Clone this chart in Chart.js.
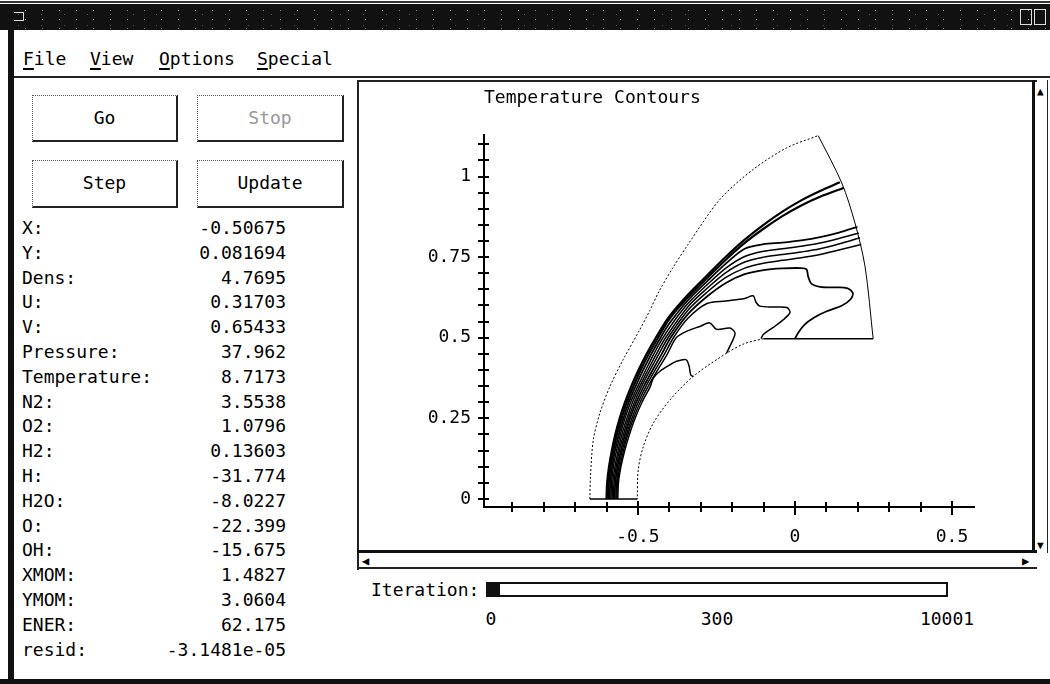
<!DOCTYPE html>
<html>
<head>
<meta charset="utf-8">
<title>Temperature Contours</title>
<script src="https://cdn.jsdelivr.net/npm/chart.js@4.4.0/dist/chart.umd.min.js"></script>
<style>
  html, body { margin: 0; padding: 0; }
  body {
    width: 1050px; height: 684px; position: relative; overflow: hidden;
    background: #fff; color: #000;
    font-family: 'DejaVu Sans Mono', 'Liberation Mono', monospace; font-size: 18px;
  }
  .abs { position: absolute; }
  .titlebar {
    background-color: #111;
    background-image: radial-gradient(#888 0.7px, transparent 1px), radial-gradient(#555 0.7px, transparent 1px);
    background-size: 17px 9px, 23px 11px;
    background-position: 0 2px, 7px 5px;
  }
  .btn {
    position: absolute; box-sizing: border-box;
    border: 1px dotted #555; border-right: 2px solid #222; border-bottom: 2px solid #222;
    text-align: center; line-height: 44px; font-size: 18px;
  }
  .lbl, .val { position: absolute; height: 22px; line-height: 22px; white-space: pre; }
  .val { text-align: right; width: 200px; left: 86px; }
  .menu { position: absolute; top: 48px; font-size: 18px; line-height: 22px; }
  .menu u { text-decoration-thickness: 2px; text-underline-offset: 3px; }
</style>
</head>
<body>

<!-- window frame -->
<div class="abs" style="left:0;top:1px;width:1050px;height:2px;background:#333;"></div>
<div class="abs titlebar" style="left:0;top:4px;width:1050px;height:26px;"></div>
<div class="abs" style="left:13px;top:12px;width:9px;height:7px;border:1px solid #ddd;"></div>
<div class="abs" style="left:1020px;top:9px;width:10px;height:14px;border:1px solid #ddd;"></div>
<div class="abs" style="left:1034px;top:9px;width:10px;height:14px;border:1px solid #ddd;"></div>
<div class="abs" style="left:8px;top:4px;width:6px;height:680px;background:#111;"></div>
<div class="abs" style="left:0;top:679px;width:1050px;height:5px;background:#111;"></div>

<!-- menu bar -->
<div class="menu" style="left:23px;"><u>F</u>ile</div>
<div class="menu" style="left:90px;"><u>V</u>iew</div>
<div class="menu" style="left:159px;"><u>O</u>ptions</div>
<div class="menu" style="left:257px;"><u>S</u>pecial</div>
<div class="abs" style="left:14px;top:76px;width:1036px;height:2px;background:#222;"></div>

<!-- control buttons -->
<div class="btn" style="left:32px;top:95px;width:146px;height:47px;">Go</div>
<div class="btn" style="left:197px;top:95px;width:147px;height:47px;color:#999;">Stop</div>
<div class="btn" style="left:32px;top:160px;width:146px;height:48px;">Step</div>
<div class="btn" style="left:197px;top:160px;width:147px;height:48px;">Update</div>
<div id="vars"></div>

<!-- plot panel frame -->
<div class="abs" style="left:357px;top:80px;width:2px;height:490px;background:#222;"></div>
<div class="abs" style="left:357px;top:80px;width:680px;height:2px;background:#222;"></div>
<div class="abs" style="left:1032px;top:80px;width:3px;height:473px;background:#111;"></div>
<div class="abs" style="left:357px;top:550px;width:680px;height:3px;background:#111;"></div>
<div class="abs" style="left:357px;top:567px;width:680px;height:2px;background:#222;"></div>
<div class="abs" style="left:362px;top:555px;font-size:12px;line-height:12px;">&#9664;</div>
<div class="abs" style="left:1022px;top:555px;font-size:12px;line-height:12px;">&#9654;</div>
<div class="abs" style="left:1047px;top:80px;width:1px;height:473px;background:#222;"></div>
<div class="abs" style="left:1037px;top:86px;font-size:11px;line-height:11px;">&#9650;</div>
<div class="abs" style="left:1037px;top:540px;font-size:11px;line-height:11px;">&#9660;</div>

<div class="abs" style="left:360px;top:82px;width:672px;height:468px;">
  <canvas id="plot" width="672" height="468"></canvas>
</div>

<!-- iteration bar -->
<div class="abs" style="left:371px;top:579px;line-height:22px;">Iteration:</div>
<div class="abs" style="left:486px;top:582px;width:458px;height:11px;border:2px solid #111;"></div>
<div class="abs" style="left:488px;top:584px;width:12px;height:11px;background:#111;"></div>
<div class="abs" style="left:480px;top:608px;width:22px;text-align:center;line-height:22px;">0</div>
<div class="abs" style="left:697px;top:608px;width:40px;text-align:center;line-height:22px;">300</div>
<div class="abs" style="left:917px;top:608px;width:60px;text-align:center;line-height:22px;">10001</div>

<script>
// --- Readout panel values ---
const varNames = ['X:', 'Y:', 'Dens:', 'U:', 'V:', 'Pressure:', 'Temperature:', 'N2:', 'O2:',
    'H2:', 'H:', 'H2O:', 'O:', 'OH:', 'XMOM:', 'YMOM:', 'ENER:', 'resid:'];
const varValues = ['-0.50675', '0.081694', '4.7695', '0.31703', '0.65433', '37.962', '8.7173',
    '3.5538', '1.0796', '0.13603', '-31.774', '-8.0227', '-22.399', '-15.675', '1.4827',
    '3.0604', '62.175', '-3.1481e-05'];

// --- Axis ticks ---
const xTickValues = [-0.9, -0.8, -0.7, -0.6, -0.5, -0.4, -0.3, -0.2, -0.1, 0, 0.1, 0.2, 0.3, 0.4, 0.5];
const xLabeled = [-0.5, 0, 0.5];
const yTickValues = [0, 0.05, 0.1, 0.15, 0.2, 0.25, 0.3, 0.35, 0.4, 0.45, 0.5, 0.55, 0.6, 0.65,
    0.7, 0.75, 0.8, 0.85, 0.9, 0.95, 1, 1.05, 1.1];
const yLabeled = [0, 0.25, 0.5, 0.75, 1];

// --- Domain boundary ---
const outerBoundary = [[-0.653, 0], [-0.651, 0.07], [-0.642, 0.183], [-0.621, 0.266], [-0.589, 0.349],
    [-0.547, 0.432], [-0.494, 0.525], [-0.462, 0.585], [-0.432, 0.645], [-0.390, 0.715],
    [-0.340, 0.790], [-0.239, 0.929], [-0.133, 1.022], [-0.026, 1.089], [0.074, 1.127]];
const rightBoundary = [[0.074, 1.127], [0.149, 0.980], [0.191, 0.856], [0.223, 0.721], [0.249, 0.497]];
const exitEdge = [[0.249, 0.497], [-0.100, 0.497]];
const bodyBoundary = [[-0.100, 0.497], [-0.160, 0.482], [-0.218, 0.452], [-0.324, 0.380], [-0.398, 0.307],
    [-0.451, 0.235], [-0.483, 0.162], [-0.499, 0.090], [-0.502, 0]];
const axisEdge = [[-0.502, 0], [-0.653, 0]];

// --- Temperature contours ---
const contourA = [[-0.600, 0], [-0.598, 0.05], [-0.592, 0.10], [-0.583, 0.15], [-0.572, 0.20],
    [-0.558, 0.25], [-0.541, 0.30], [-0.521, 0.35], [-0.498, 0.40], [-0.472, 0.45], [-0.443, 0.50],
    [-0.400, 0.566], [-0.340, 0.634], [-0.280, 0.693], [-0.220, 0.751], [-0.160, 0.804],
    [-0.100, 0.850], [-0.040, 0.891], [0.020, 0.926], [0.080, 0.955], [0.143, 0.982]];
const contourB = [[-0.595, 0], [-0.593, 0.05], [-0.587, 0.10], [-0.578, 0.15], [-0.567, 0.20],
    [-0.552, 0.25], [-0.535, 0.30], [-0.514, 0.35], [-0.491, 0.40], [-0.465, 0.45], [-0.436, 0.50],
    [-0.400, 0.558], [-0.340, 0.626], [-0.280, 0.685], [-0.220, 0.742], [-0.160, 0.794],
    [-0.100, 0.838], [-0.040, 0.877], [0.020, 0.910], [0.080, 0.937], [0.156, 0.965]];
const contourC = [[-0.590, 0], [-0.588, 0.05], [-0.582, 0.10], [-0.573, 0.15], [-0.561, 0.20],
    [-0.546, 0.25], [-0.529, 0.30], [-0.507, 0.35], [-0.483, 0.40], [-0.457, 0.45], [-0.428, 0.50],
    [-0.400, 0.544], [-0.340, 0.617], [-0.280, 0.675], [-0.220, 0.730], [-0.160, 0.776],
    [-0.100, 0.790], [-0.040, 0.795], [0.020, 0.802], [0.080, 0.812], [0.140, 0.826], [0.199, 0.844]];
const contourD = [[-0.586, 0], [-0.584, 0.05], [-0.578, 0.10], [-0.568, 0.15], [-0.556, 0.20],
    [-0.541, 0.25], [-0.523, 0.30], [-0.500, 0.35], [-0.475, 0.40], [-0.449, 0.45], [-0.420, 0.50],
    [-0.380, 0.558], [-0.340, 0.607], [-0.280, 0.664], [-0.220, 0.716], [-0.160, 0.752],
    [-0.100, 0.768], [-0.040, 0.776], [0.020, 0.784], [0.080, 0.794], [0.140, 0.808], [0.203, 0.825]];
const contourE = [[-0.582, 0], [-0.580, 0.05], [-0.573, 0.10], [-0.563, 0.15], [-0.551, 0.20],
    [-0.535, 0.25], [-0.517, 0.30], [-0.494, 0.35], [-0.468, 0.40], [-0.441, 0.45], [-0.412, 0.50],
    [-0.340, 0.597], [-0.280, 0.653], [-0.220, 0.702], [-0.160, 0.735], [-0.100, 0.750],
    [-0.040, 0.758], [0.020, 0.766], [0.080, 0.776], [0.140, 0.791], [0.207, 0.810]];
const contourF = [[-0.578, 0], [-0.576, 0.05], [-0.569, 0.10], [-0.559, 0.15], [-0.546, 0.20],
    [-0.530, 0.25], [-0.511, 0.30], [-0.488, 0.35], [-0.461, 0.40], [-0.433, 0.45], [-0.404, 0.50],
    [-0.340, 0.586], [-0.280, 0.641], [-0.220, 0.687], [-0.160, 0.716], [-0.100, 0.731],
    [-0.040, 0.740], [0.020, 0.748], [0.080, 0.758], [0.140, 0.772], [0.211, 0.789]];
const contourG = [[-0.574, 0], [-0.572, 0.05], [-0.565, 0.10], [-0.554, 0.15], [-0.541, 0.20],
    [-0.525, 0.25], [-0.505, 0.30], [-0.481, 0.35], [-0.453, 0.40], [-0.424, 0.45], [-0.396, 0.50],
    [-0.340, 0.574], [-0.280, 0.628], [-0.220, 0.670], [-0.160, 0.697], [-0.100, 0.710],
    [-0.040, 0.715], [0.020, 0.716], [0.037, 0.712], [0.042, 0.690], [0.052, 0.668], [0.080, 0.658],
    [0.130, 0.656], [0.165, 0.654], [0.184, 0.639], [0.178, 0.620], [0.150, 0.600], [0.101, 0.582],
    [0.060, 0.562], [0.030, 0.540], [0.010, 0.515], [0.000, 0.497]];
const contourH = [[-0.570, 0], [-0.568, 0.05], [-0.561, 0.10], [-0.550, 0.15], [-0.536, 0.20],
    [-0.519, 0.25], [-0.499, 0.30], [-0.474, 0.35], [-0.445, 0.40], [-0.415, 0.45], [-0.387, 0.50],
    [-0.340, 0.561], [-0.280, 0.606], [-0.220, 0.614], [-0.160, 0.622], [-0.133, 0.630],
    [-0.124, 0.610], [-0.112, 0.598], [-0.070, 0.595], [-0.026, 0.594], [-0.016, 0.578],
    [-0.037, 0.556], [-0.069, 0.532], [-0.101, 0.510], [-0.108, 0.497]];
const contourJ = [[-0.567, 0], [-0.565, 0.05], [-0.557, 0.10], [-0.546, 0.15], [-0.532, 0.20],
    [-0.514, 0.25], [-0.493, 0.30], [-0.467, 0.35], [-0.437, 0.40], [-0.406, 0.45], [-0.378, 0.50],
    [-0.340, 0.522], [-0.303, 0.535], [-0.271, 0.546], [-0.250, 0.526], [-0.207, 0.530],
    [-0.191, 0.515], [-0.198, 0.492], [-0.207, 0.474], [-0.218, 0.452]];
const contourI = [[-0.564, 0], [-0.562, 0.05], [-0.554, 0.10], [-0.542, 0.15], [-0.527, 0.20],
    [-0.509, 0.25], [-0.487, 0.30], [-0.460, 0.35], [-0.451, 0.375], [-0.430, 0.396], [-0.400, 0.415],
    [-0.377, 0.427], [-0.347, 0.432], [-0.337, 0.412], [-0.332, 0.385], [-0.324, 0.379]];

// --- Readout panel ---
(function () {
    const box = document.getElementById('vars');
    varNames.forEach(function (name, i) {
        const top = Math.round(217 + i * 24.8);
        const l = document.createElement('div');
        l.className = 'lbl';
        l.style.left = '22px';
        l.style.top = top + 'px';
        l.textContent = name;
        const v = document.createElement('div');
        v.className = 'val';
        v.style.top = top + 'px';
        v.textContent = varValues[i];
        box.appendChild(l);
        box.appendChild(v);
    });
})();

// --- Chart ---
function contour(points, width, dash, tension) {
    return {
        data: points.map(p => ({ x: p[0], y: p[1] })),
        showLine: true,
        borderColor: '#000',
        borderWidth: width,
        borderDash: dash,
        pointRadius: 0,
        tension: tension,
        fill: false
    };
}

// tick marks crossing the axis lines
const tickMarks = {
    id: 'tickMarks',
    afterDraw(chart) {
        const { ctx, chartArea, scales } = chart;
        ctx.save();
        ctx.strokeStyle = '#000';
        ctx.lineWidth = 2;
        ctx.beginPath();
        scales.x.ticks.forEach(function (t) {
            const px = Math.round(scales.x.getPixelForValue(t.value));
            const major = xLabeled.includes(t.value);
            ctx.moveTo(px, chartArea.bottom - (major ? 6 : 5));
            ctx.lineTo(px, chartArea.bottom + (major ? 8 : 5));
        });
        scales.y.ticks.forEach(function (t) {
            const py = Math.round(scales.y.getPixelForValue(t.value));
            ctx.moveTo(chartArea.left - 6, py);
            ctx.lineTo(chartArea.left + 5, py);
        });
        ctx.stroke();
        ctx.restore();
    }
};

const font = { family: "'DejaVu Sans Mono'", size: 18, weight: 'normal' };

new Chart(document.getElementById('plot').getContext('2d'), {
    type: 'scatter',
    data: {
        datasets: [
            contour(outerBoundary, 1, [2, 2], 0.3),
            contour(rightBoundary, 1, [], 0.3),
            contour(exitEdge, 1.5, [], 0),
            contour(bodyBoundary, 1, [2, 2], 0.3),
            contour(axisEdge, 1.5, [], 0),
            contour(contourI, 1.5, [], 0.3),
            contour(contourJ, 1.5, [], 0.3),
            contour(contourH, 1.5, [], 0.3),
            contour(contourG, 1.8, [], 0.3),
            contour(contourF, 1.5, [], 0.3),
            contour(contourE, 1.5, [], 0.3),
            contour(contourD, 1.5, [], 0.3),
            contour(contourC, 1.8, [], 0.3),
            contour(contourB, 2.2, [], 0.3),
            contour(contourA, 2.2, [], 0.3)
        ]
    },
    options: {
        responsive: false,
        animation: false,
        layout: { padding: { right: 58 } },
        plugins: {
            legend: { display: false },
            tooltip: { enabled: false },
            title: {
                display: true,
                text: 'Temperature Contours',
                align: 'start',
                fullSize: false,
                color: '#000',
                font: font,
                padding: { top: 6, bottom: 25 }
            }
        },
        scales: {
            x: {
                type: 'linear',
                min: -0.99,
                max: 0.57,
                afterBuildTicks: function (s) { s.ticks = xTickValues.map(v => ({ value: v })); },
                afterFit: function (s) { s.height = 43; },
                grid: { display: false, drawTicks: false },
                border: { display: true, color: '#000', width: 2 },
                ticks: {
                    autoSkip: false, maxRotation: 0, padding: 20, color: '#000', font: font,
                    callback: v => xLabeled.includes(v) ? String(v) : ''
                }
            },
            y: {
                type: 'linear',
                min: -0.025,
                max: 1.13,
                afterBuildTicks: function (s) { s.ticks = yTickValues.map(v => ({ value: v })); },
                afterFit: function (s) { s.width = 124; },
                grid: { display: false, drawTicks: false },
                border: { display: true, color: '#000', width: 2 },
                ticks: {
                    autoSkip: false, padding: 13, color: '#000', font: font,
                    callback: v => yLabeled.includes(v) ? String(v) : ''
                }
            }
        }
    },
    plugins: [tickMarks]
});
</script>
</body>
</html>
